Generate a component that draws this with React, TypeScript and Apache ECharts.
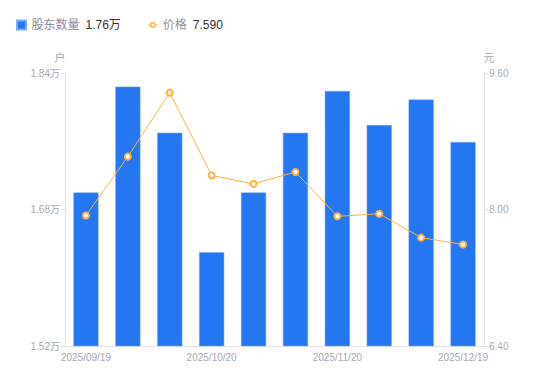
import React, { useEffect, useRef } from "react";
import * as echarts from "echarts";

const categories = [
  "2025/09/19", "2025/09/30", "2025/10/10", "2025/10/20", "2025/10/31",
  "2025/11/10", "2025/11/20", "2025/11/30", "2025/12/10", "2025/12/19",
];
const holders = [1.700, 1.824, 1.770, 1.630, 1.700, 1.770, 1.819, 1.779, 1.809, 1.759];
const prices = [7.93, 8.62, 9.37, 8.40, 8.30, 8.44, 7.92, 7.95, 7.67, 7.59];
const leftTicks = { min: 1.52, max: 1.84, interval: 0.16 };
const rightTicks = { min: 6.4, max: 9.6, interval: 1.6 };

const lineIcon =
  "path://M0,4H2.2V5H0Z M7.8,4H10V5H7.8Z " +
  "M2,4.5A3,3 0 1,0 8,4.5A3,3 0 1,0 2,4.5Z " +
  "M3.5,4.5A1.5,1.5 0 1,1 6.5,4.5A1.5,1.5 0 1,1 3.5,4.5Z";

export default function App() {
  const ref = useRef<HTMLDivElement>(null);
  useEffect(() => {
    const chart = echarts.init(ref.current!, null, { renderer: "svg" });
    const font = "'Liberation Sans', Arial, 'Noto Sans CJK SC', sans-serif";
    const axisLabel = { color: "#a7a9b6", fontSize: 10, fontFamily: font };
    const axisLine = { show: true, lineStyle: { color: "#e3e4e8" } };
    chart.setOption({
      animation: false,
      textStyle: { fontFamily: font },
      legend: {
        left: 11,
        top: 14,
        itemWidth: 10,
        itemHeight: 9,
        itemGap: 27,
        data: [
          { name: "股东数量", icon: "path://M0,0H10V10H0Z" },
          { name: "价格", icon: lineIcon, itemStyle: { color: "#ffb23f", borderWidth: 0 } },
        ],
        formatter: (name: string) => {
          if (name === "股东数量") return `{n|${name}}{v|${holders[holders.length - 1].toFixed(2)}万}`;
          return `{n|${name}}{v|${prices[prices.length - 1].toFixed(3)}}`;
        },
        textStyle: {
          rich: {
            n: { color: "#8c8e9b", fontSize: 12, fontFamily: font, padding: [0, 6, 0, 0] },
            v: { color: "#333333", fontSize: 12, fontFamily: font },
          },
        },
      },
      grid: { left: 65, right: 66, top: 73, bottom: 35 },
      xAxis: {
        type: "category",
        data: categories,
        axisLine,
        axisTick: { show: false },
        axisLabel: { ...axisLabel, interval: 2, margin: 6 },
      },
      yAxis: [
        {
          type: "value",
          name: "户",
          nameTextStyle: { color: "#a7a9b6", fontSize: 11, padding: [0, 10, 0, 0] },
          nameGap: 10,
          min: leftTicks.min,
          max: leftTicks.max,
          interval: leftTicks.interval,
          axisLine,
          axisTick: { show: true, length: 4, lineStyle: { color: "#e3e4e8" } },
          splitLine: { show: false },
          axisLabel: { ...axisLabel, margin: 5, formatter: (v: number) => `${v.toFixed(2)}万` },
        },
        {
          type: "value",
          name: "元",
          nameTextStyle: { color: "#a7a9b6", fontSize: 11, padding: [0, 0, 0, 10] },
          nameGap: 10,
          min: rightTicks.min,
          max: rightTicks.max,
          interval: rightTicks.interval,
          position: "right",
          axisLine,
          axisTick: { show: true, length: 4, lineStyle: { color: "#e3e4e8" } },
          splitLine: { show: false },
          axisLabel: { ...axisLabel, margin: 5, formatter: (v: number) => v.toFixed(2) },
        },
      ],
      series: [
        {
          name: "股东数量",
          type: "bar",
          data: holders,
          yAxisIndex: 0,
          barWidth: "60%",
          itemStyle: { color: "#2577f1", borderColor: "#7aaaf5", borderWidth: 0.5 },
        },
        {
          name: "价格",
          type: "line",
          data: prices,
          yAxisIndex: 1,
          symbol: "circle",
          symbolSize: 6,
          showAllSymbol: true,
          lineStyle: { color: "#ffb23f", width: 1 },
          itemStyle: { color: "#ffffff", borderColor: "#ffb23f", borderWidth: 2 },
        },
      ],
    });
    return () => chart.dispose();
  }, []);
  return <div ref={ref} style={{ width: 550, height: 381, position: "absolute", left: 0, top: 0 }} />;
}
